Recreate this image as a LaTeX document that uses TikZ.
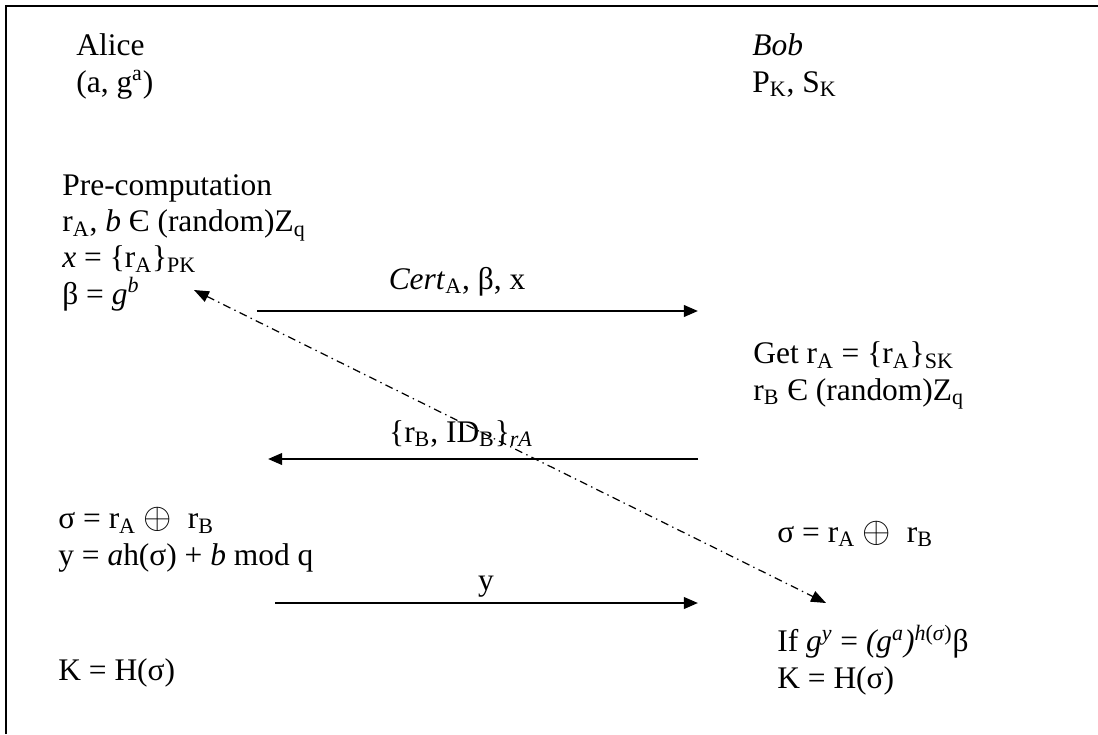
\documentclass[tikz,border=0pt]{standalone}
\usepackage{fontspec}
\setmainfont{Liberation Serif}
\usetikzlibrary{arrows.meta}
\newcommand{\xor}{{\fontsize{21pt}{21pt}\selectfont$\oplus$}}
\begin{document}
\begin{tikzpicture}[x=0.02cm,y=-0.02cm,
  txt/.style={anchor=base west,align=left,inner sep=0pt,font=\fontsize{17.9pt}{20.5pt}\selectfont},
  lbl/.style={anchor=base,inner sep=0pt,font=\fontsize{17.9pt}{20.5pt}\selectfont},
  msg/.style={line width=1.4pt,-{Triangle[length=8pt,width=6.5pt]}},
  dashdot/.style={line width=0.7pt,dash pattern=on 4.5pt off 2.5pt on 0.8pt off 2.5pt,
    {Triangle[length=8.5pt,width=6.5pt]}-{Triangle[length=8.5pt,width=6.5pt]}}]
\useasboundingbox (0,0) rectangle (1098,734);
\draw[line width=1.2pt] (6,734) |- (1098,6);

% parties (anchored at the last line)
\node[txt] (alice) at (76,92) {Alice\\(a, g\textsuperscript{a})};
\node[txt] (bob) at (752,92) {\textit{Bob}\\P\textsubscript{K}, S\textsubscript{K}};

% Alice side
\node[txt] (precomp) at (62,304) {Pre-computation\\
  r\textsubscript{A}, \textit{b} Є (random)Z\textsubscript{q}\\
  \textit{x} = \{r\textsubscript{A}\}\textsubscript{PK}\\
  β = \textit{g}\textsuperscript{\textit{b}}};
\node[txt] (asigma) at (58,565) {σ = r\textsubscript{A} \xor\ \ r\textsubscript{B}\\
  y = \textit{a}h(σ) + \textit{b} mod q};
\node[txt] (akey) at (58,680) {K = H(σ)};

% Bob side
\node[txt] (bget) at (753,400) {Get r\textsubscript{A} = \{r\textsubscript{A}\}\textsubscript{SK}\\
  r\textsubscript{B} Є (random)Z\textsubscript{q}};
\node[txt] (bsigma) at (777,542) {σ = r\textsubscript{A} \xor\ \ r\textsubscript{B}};
\node[txt] (bcheck) at (777,688) {If \textit{g}\textsuperscript{\textit{y}} = \textit{(g}\textsuperscript{\textit{a}}\textit{)}\textsuperscript{\textit{h}(\textit{σ})}β\\
  K = H(σ)};

% messages
\coordinate (m1a) at (257,311);
\coordinate (m1b) at (698,311);
\coordinate (m2a) at (698,459);
\coordinate (m2b) at (268,459);
\coordinate (m3a) at (275,603);
\coordinate (m3b) at (698,603);
\coordinate (da) at (194,290);
\coordinate (db) at (826,603);

\draw[msg] (m1a) -- (m1b);
\draw[msg] (m2a) -- (m2b);
\draw[msg] (m3a) -- (m3b);
\draw[dashdot] (da) -- (db);

\node[lbl] (cert) at (457,289) {\textit{Cert}\textsubscript{A}, β, x};
\node[lbl] (enc) at (461,442) {\{r\textsubscript{B}, ID\textsubscript{B}\}\textsubscript{\textit{rA}}};
\node[lbl] (ylbl) at (486,590) {y};
\end{tikzpicture}
\end{document}
